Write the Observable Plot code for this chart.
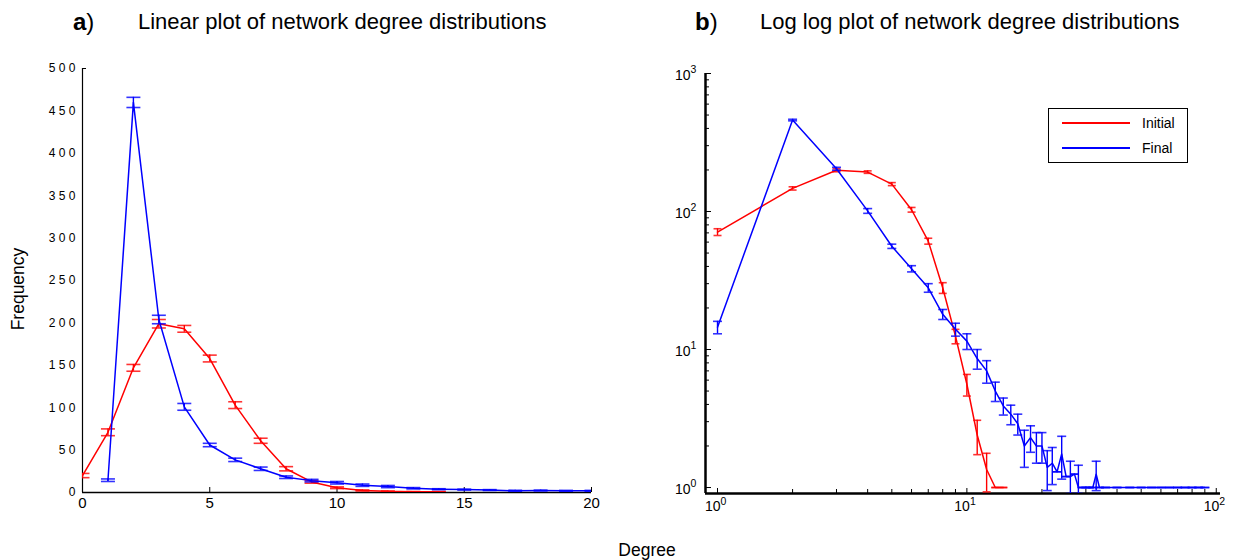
<!DOCTYPE html>
<html><head><meta charset="utf-8">
<script src="https://cdn.jsdelivr.net/npm/d3@7"></script>
<script src="https://cdn.jsdelivr.net/npm/@observablehq/plot@0.6"></script>
<style>
body{margin:0;background:#fff;font-family:"Liberation Sans",Arial,Helvetica,sans-serif;}
#wrap{position:relative;width:1240px;height:560px;overflow:hidden;background:#fff;}
.abs{position:absolute;white-space:nowrap;color:#000;}
.plot{position:absolute;top:0;}
#legend{position:absolute;left:1048px;top:108px;width:138px;height:53px;border:1px solid #000;background:#fff;font-size:14px;}
#legend .row{position:absolute;left:0;height:18px;line-height:18px;width:100%;}
#legend .sw{position:absolute;left:13px;width:68px;height:1.5px;top:8px;}
#legend .lb{position:absolute;left:93px;top:0;}
</style></head>
<body><div id="wrap">
<div class="abs" style="left:73px;top:8px;font-size:24px;line-height:28px;"><b>a</b>)</div>
<div class="abs" style="left:138px;top:9px;font-size:22px;line-height:26px;">Linear plot of network degree distributions</div>
<div class="abs" style="left:695px;top:8px;font-size:24px;line-height:28px;"><b>b</b>)</div>
<div class="abs" style="left:760px;top:9px;font-size:22px;line-height:26px;">Log log plot of network degree distributions</div>
<div class="abs" style="left:18px;top:289px;font-size:17.5px;line-height:20px;transform:translate(-50%,-50%) rotate(-90deg);">Frequency</div>
<div class="abs" style="left:647px;top:550px;font-size:17.5px;line-height:20px;transform:translate(-50%,-50%);">Degree</div>
<div id="left" class="plot" style="left:0;"></div>
<div id="right" class="plot" style="left:620px;"></div>
<div id="legend">
  <div class="row" style="top:5px;"><div class="sw" style="background:#ff0000;"></div><div class="lb">Initial</div></div>
  <div class="row" style="top:30px;"><div class="sw" style="background:#0000ff;"></div><div class="lb">Final</div></div>
</div>
</div>
<script>
// ---- data ----
const initialDegree = [0,1,2,3,4,5,6,7,8,9,10,11,12,13,14];
const initialFreq   = [20,71,147,199,193,158,103,61,28,12.5,5.6,2.4,1.35,1,1];
const initialErr    = [2.5,4,4,5,4,4,4,3,2.5,1.5,1,0.67,0.42,0,0];

const finalDegree = [1,2,3,4,5,6,7,8,9,10,11,12,13,14,15,16,17,18,19,20,21,22,23,24,25,26,27,28,29,30,31,32,33,34,36,40,45,50,55,60,65,70,75,80,85,90];
const finalFreq   = [14.5,460,204,101,56,38.5,28,18,14,11.5,8.6,7,5,3.9,3.4,2.9,2.0,2.3,2.0,2.0,1.4,1.5,1.3,1.75,1.2,1.2,1.25,1.0,1,1,1,1,1.25,1,1,1,1,1,1,1,1,1,1,1,1,1];
const finalErr    = [1.5,6,5,4,2,2,2,1.5,1.5,1.5,1.4,1.3,0.8,0.55,0.55,0.5,0.6,0.5,0.5,0.5,0.45,0.45,0,0.6,0,0.35,0,0.45,0,0,0,0,0.3,0,0,0,0,0,0,0,0,0,0,0,0,0];

const seriesNames  = ["Initial","Final"];
const seriesColors = ["#ff0000","#0000ff"];

const linXTicks = [0,5,10,15,20];
const linXTickLabels = ["0","5","10","15","20"];
const linYTicks = [0,50,100,150,200,250,300,350,400,450,500];
const linYTickLabels = ["0","5 0","1 0 0","1 5 0","2 0 0","2 5 0","3 0 0","3 5 0","4 0 0","4 5 0","5 0 0"];

const logXMajors = [1,10,100];
const logXExps = ["0","1","2"];
const logYMajors = [1,10,100,1000];
const logYExps = ["0","1","2","3"];

const linXDomain = [0,20], linYDomain = [0,500];
const logXDomain = [0.895,104], logYDomain = [0.905,1000];

// ---- build rows ----
function rows(name, degs, freqs, errs){
  return degs.map((d,i)=>({series:name, degree:d, freq:freqs[i], err:errs[i]}));
}
const initial = rows(seriesNames[0], initialDegree, initialFreq, initialErr);
const fin = rows(seriesNames[1], finalDegree, finalFreq, finalErr);

const cap = {draw(ctx, size){ const r = Math.sqrt(size/Math.PI); ctx.moveTo(-r,0); ctx.lineTo(r,0); }};

function seriesMarks(data, color, capR, lowFloor){
  const lo = d => Math.max(d.freq - d.err, lowFloor);
  const hi = d => d.freq + d.err;
  return [
    Plot.line(data, {x:"degree", y:"freq", stroke:color, strokeWidth:1.5, clip:true}),
    Plot.ruleX(data, {x:"degree", y1:lo, y2:hi, stroke:color, strokeWidth:1.4, clip:true}),
    Plot.dot(data, {x:"degree", y:lo, symbol:cap, r:capR, stroke:color, fill:"none", strokeWidth:1.6, strokeOpacity:0.8, clip:true}),
    Plot.dot(data, {x:"degree", y:hi, symbol:cap, r:capR, stroke:color, fill:"none", strokeWidth:1.6, strokeOpacity:0.8, clip:true})
  ];
}

const font = '"Liberation Sans",Arial,Helvetica,sans-serif';

// ---- left: linear ----
const LW=620, LH=560, LML=82, LMR=29, LMT=68, LMB=68;
const linInitial = initial.filter(d=>d.degree<=linXDomain[1]);
const linFinal = fin.filter(d=>d.degree<=linXDomain[1]);
const left = Plot.plot({
  width:LW, height:LH, marginLeft:LML, marginRight:LMR, marginTop:LMT, marginBottom:LMB,
  x:{type:"linear", domain:linXDomain, axis:null},
  y:{type:"linear", domain:linYDomain, axis:null},
  style:{fontFamily:font, background:"transparent", overflow:"visible", color:"#000"},
  marks:[
    Plot.ruleX([linXDomain[0]], {stroke:"#000", strokeWidth:1.2}),
    Plot.ruleY([linYDomain[0]], {stroke:"#000", strokeWidth:1.6}),
    Plot.tickX(linXTicks, {x:d=>d, stroke:"#000", insetTop:(LH-LMT-LMB)-5}),
    Plot.tickY([linYDomain[1]], {y:d=>d, stroke:"#000", insetRight:(LW-LML-LMR)-4}),
    Plot.text(linXTicks, {x:d=>d, frameAnchor:"bottom", dy:15, text:(d,i)=>linXTickLabels[i], fontSize:15, fill:"#000"}),
    Plot.text(linYTicks, {y:d=>d, frameAnchor:"left", dx:-7, textAnchor:"end", text:(d,i)=>linYTickLabels[i], fontSize:12, fill:"#000"}),
    ...seriesMarks(linInitial, seriesColors[0], 7, linYDomain[0]),
    ...seriesMarks(linFinal, seriesColors[1], 7, linYDomain[0])
  ]
});
document.getElementById("left").append(left);

// ---- right: log-log ----
const RW=620, RH=560, RML=85, RMR=20, RMT=73, RMB=67;
const logInitial = initial.filter(d=>d.degree>0);
const logFinal = fin.filter(d=>d.degree>0);
const xMinor = [], yMinor = [];
for (const p of [1,10]) for (let m=2;m<=9;m++) xMinor.push(m*p);
for (const p of [1,10,100]) for (let m=2;m<=9;m++) yMinor.push(m*p);
const innerW = RW-RML-RMR, innerH = RH-RMT-RMB;
const right = Plot.plot({
  width:RW, height:RH, marginLeft:RML, marginRight:RMR, marginTop:RMT, marginBottom:RMB,
  x:{type:"log", domain:logXDomain, axis:null},
  y:{type:"log", domain:logYDomain, axis:null},
  style:{fontFamily:font, background:"transparent", overflow:"visible", color:"#000"},
  marks:[
    Plot.tickX(xMinor, {x:d=>d, stroke:"#000", strokeWidth:1, insetTop:innerH-4}),
    Plot.tickX(logXMajors, {x:d=>d, stroke:"#000", strokeWidth:1, insetTop:innerH-5}),
    Plot.tickY(yMinor, {y:d=>d, stroke:"#000", strokeWidth:1, insetRight:innerW-4}),
    Plot.tickY(logYMajors, {y:d=>d, stroke:"#000", strokeWidth:1, insetRight:innerW-6}),
    Plot.ruleX([logXDomain[0]], {stroke:"#000", strokeWidth:2.5}),
    Plot.ruleY([logYDomain[0]], {stroke:"#000", strokeWidth:2.5}),
    Plot.text(logXMajors, {x:d=>d, frameAnchor:"bottom", dy:17, dx:3, textAnchor:"end", text:()=>"10", fontSize:14, fill:"#000"}),
    Plot.text(logXMajors, {x:d=>d, frameAnchor:"bottom", dy:11, dx:3, textAnchor:"start", text:(d,i)=>logXExps[i], fontSize:10.5, fill:"#000"}),
    Plot.text(logYMajors, {y:d=>d, frameAnchor:"left", dx:-15, dy:2, textAnchor:"end", text:()=>"10", fontSize:14, fill:"#000"}),
    Plot.text(logYMajors, {y:d=>d, frameAnchor:"left", dx:-15, dy:-4, textAnchor:"start", text:(d,i)=>logYExps[i], fontSize:10.5, fill:"#000"}),
    ...seriesMarks(logInitial, seriesColors[0], 4, logYDomain[0]),
    ...seriesMarks(logFinal, seriesColors[1], 4.5, logYDomain[0])
  ]
});
document.getElementById("right").append(right);
</script>
</body></html>
